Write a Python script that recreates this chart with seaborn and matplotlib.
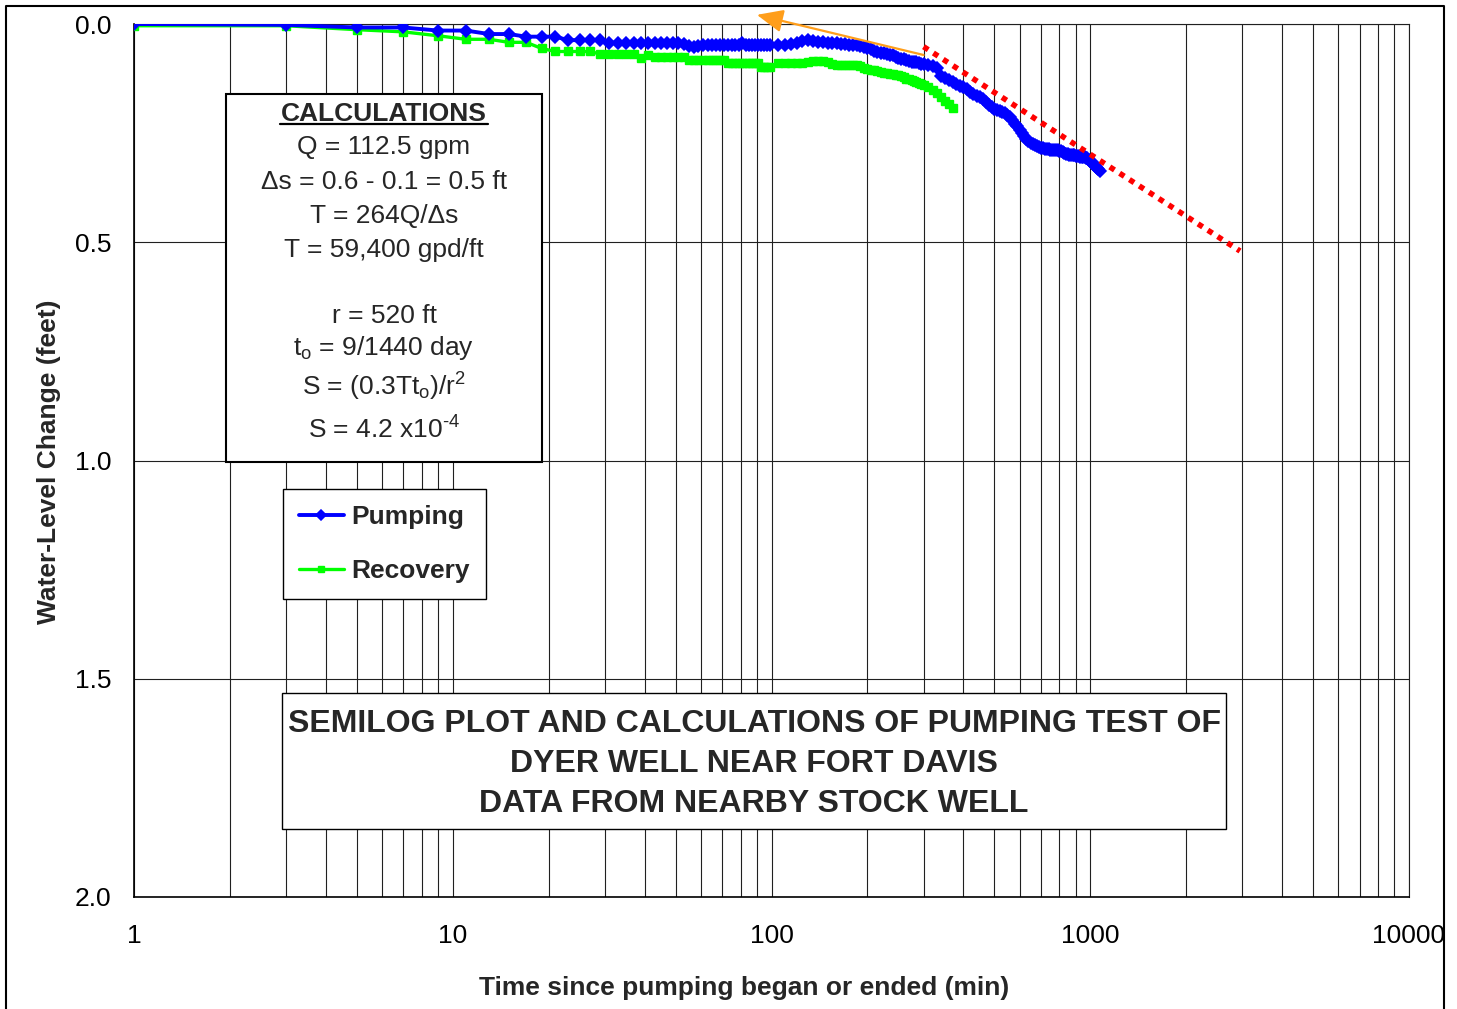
import numpy as np
import pandas as pd
import matplotlib
matplotlib.use('Agg')
import matplotlib.pyplot as plt
import seaborn as sns
from matplotlib.patches import Rectangle
from matplotlib.lines import Line2D
from matplotlib.ticker import LogLocator, NullFormatter, FixedLocator

# ---------------- data ----------------
pump_time = list(range(1, 101, 2)) + list(range(105, 301, 5)) + list(range(310, 1071, 10))
pump_change = [
    0.000, 0.002, 0.008, 0.008, 0.015, 0.015, 0.023, 0.023, 0.029, 0.029,
    0.029, 0.037, 0.037, 0.037, 0.037,
    0.043, 0.043, 0.043, 0.043, 0.043, 0.043, 0.043, 0.043, 0.043, 0.043, 0.043, 0.045,
    0.051, 0.052, 0.050,
    0.049,
    0.049, 0.049, 0.049, 0.049, 0.049, 0.049, 0.049, 0.049, 0.049,
    0.044,
    0.047,
    0.049, 0.049, 0.049, 0.049, 0.049, 0.049, 0.049, 0.049,
    # 105 .. 300 step 5
    0.047, 0.048, 0.046, 0.043, 0.040, 0.036, 0.040, 0.042, 0.042, 0.043,
    0.043, 0.044, 0.046, 0.046, 0.047, 0.048, 0.049, 0.050, 0.052, 0.054,
    0.058, 0.062, 0.065, 0.066, 0.067, 0.068, 0.070, 0.072, 0.075, 0.078,
    0.080, 0.081, 0.083, 0.085, 0.086, 0.087, 0.088, 0.090, 0.091, 0.092,
    # 310 .. 1070 step 10
    0.095, 0.097, 0.100, 0.118, 0.124, 0.128, 0.133, 0.137, 0.141, 0.145,
    0.150, 0.155, 0.160, 0.164, 0.167, 0.172, 0.178, 0.185, 0.191, 0.195,
    0.197, 0.199, 0.202, 0.205, 0.209, 0.214, 0.221, 0.228, 0.234, 0.242,
    0.250, 0.257, 0.263, 0.268, 0.272, 0.275, 0.278, 0.280, 0.282, 0.284,
    0.285, 0.286, 0.287, 0.287, 0.288, 0.288, 0.288, 0.289, 0.289, 0.290,
    0.291, 0.293, 0.295, 0.297, 0.298, 0.299, 0.300, 0.300, 0.301, 0.302,
    0.303, 0.303, 0.304, 0.304, 0.305, 0.305, 0.306, 0.308, 0.311, 0.314,
    0.317, 0.320, 0.323, 0.327, 0.330, 0.333, 0.336,
]

recov_time = list(range(1, 101, 2)) + list(range(105, 301, 5)) + list(range(310, 371, 10))
recov_change = [
    0.004, 0.004, 0.013, 0.018, 0.027, 0.035, 0.035, 0.042, 0.042, 0.056,
    0.063, 0.063, 0.063, 0.063, 0.069,
    0.069, 0.069, 0.069, 0.069,
    0.077,
    0.072,
    0.075, 0.075, 0.075, 0.075, 0.075, 0.075,
    0.082, 0.082, 0.082, 0.082, 0.082, 0.082, 0.082, 0.082, 0.082,
    0.090, 0.090, 0.090, 0.090, 0.090, 0.090, 0.090, 0.090, 0.090, 0.090,
    0.098, 0.098, 0.098, 0.098,
    # 105 .. 300 step 5
    0.090, 0.089, 0.089, 0.089, 0.089, 0.088, 0.084, 0.084, 0.084, 0.086,
    0.092, 0.093, 0.093, 0.093, 0.094, 0.094, 0.095, 0.097, 0.100, 0.103,
    0.105, 0.106, 0.108, 0.110, 0.112, 0.113, 0.114, 0.115, 0.116, 0.117,
    0.119, 0.122, 0.125, 0.127, 0.129, 0.131, 0.133, 0.135, 0.137, 0.139,
    # 310 .. 370 step 10
    0.145, 0.151, 0.157, 0.167, 0.176, 0.184, 0.192,
]

fit_time = [300, 2950]
fit_change = [0.052, 0.520]

arrow_tail = (300, 0.071)
arrow_head = (90, -0.021)

x_ticks = [1, 10, 100, 1000, 10000]
x_tick_labels = ['1', '10', '100', '1000', '10000']
y_ticks = [0.0, 0.5, 1.0, 1.5, 2.0]
y_tick_labels = ['0.0', '0.5', '1.0', '1.5', '2.0']

calc_title = 'CALCULATIONS'
calc_lines = [
    'Q = 112.5 gpm',
    '\u0394s = 0.6 - 0.1 = 0.5 ft',
    'T = 264Q/\u0394s',
    'T = 59,400 gpd/ft',
    'r = 520 ft',
    't$_{\\mathrm{o}}$ = 9/1440 day',
    'S = (0.3Tt$_{\\mathrm{o}}$)/r$^{\\mathrm{2}}$',
    'S = 4.2 x10$^{\\text{-4}}$',
]
title_lines = [
    'SEMILOG PLOT AND CALCULATIONS OF PUMPING TEST OF',
    'DYER WELL NEAR FORT DAVIS',
    'DATA FROM NEARBY STOCK WELL',
]
x_label = 'Time since pumping began or ended (min)'
y_label = 'Water-Level Change (feet)'

# ---------------- style ----------------
sns.set_theme(style='white')
plt.rcParams['font.family'] = ['Liberation Sans', 'DejaVu Sans']
plt.rcParams['mathtext.fontset'] = 'custom'
plt.rcParams['mathtext.rm'] = 'Liberation Sans'
plt.rcParams['mathtext.it'] = 'Liberation Sans:italic'
plt.rcParams['mathtext.bf'] = 'Liberation Sans:bold'

W, H = 1457, 1009
fig = plt.figure(figsize=(W / 100, H / 100), dpi=100)
fig.patch.set_facecolor('white')

def fx(px):
    return px / W

def fy(py):
    return 1 - py / H

ax = fig.add_axes([fx(134), fy(897), (1409 - 134) / W, (897 - 24) / H])
ax.set_facecolor('white')

pump_df = pd.DataFrame({'time': pump_time, 'change': pump_change})
recov_df = pd.DataFrame({'time': recov_time, 'change': recov_change})
fit_df = pd.DataFrame({'time': fit_time, 'change': fit_change})

sns.lineplot(data=pump_df, x='time', y='change', ax=ax, sort=False, errorbar=None,
             color='#0000FF', lw=2.8, marker='D', markersize=5.8,
             markeredgecolor='#0000FF', markerfacecolor='#0000FF', markeredgewidth=1.1,
             label='Pumping', zorder=4)
sns.lineplot(data=recov_df, x='time', y='change', ax=ax, sort=False, errorbar=None,
             color='#00FF00', lw=2.4, marker='s', markersize=5.6,
             markeredgecolor='#00FF00', markerfacecolor='#00FF00', markeredgewidth=1.0,
             label='Recovery', zorder=3)
sns.lineplot(data=fit_df, x='time', y='change', ax=ax, sort=False, errorbar=None,
             color='#FF0000', lw=4.0, linestyle=(0, (1, 1.1)), zorder=5, legend=False)

ax.annotate('', xy=arrow_head, xytext=arrow_tail, annotation_clip=False,
            arrowprops=dict(arrowstyle='-|>,head_length=0.8,head_width=0.35',
                            color='#FF9E1B', lw=1.6, mutation_scale=20,
                            shrinkA=0, shrinkB=0), zorder=6)

ax.set_xscale('log')
ax.set_xlim(1, 10000)
ax.set_ylim(2.0, 0.0)
ax.xaxis.set_major_locator(FixedLocator(x_ticks))
ax.set_xticklabels(x_tick_labels)
ax.xaxis.set_minor_locator(LogLocator(base=10, subs=np.arange(2, 10)))
ax.xaxis.set_minor_formatter(NullFormatter())
ax.set_yticks(y_ticks)
ax.set_yticklabels(y_tick_labels)

ax.grid(True, which='both', axis='x', color='#202020', lw=0.8)
ax.grid(True, which='major', axis='y', color='#202020', lw=0.8)
ax.set_axisbelow(True)

ax.tick_params(which='major', direction='out', length=6.5, width=1, color='black',
               labelsize=19, labelcolor='black')
ax.tick_params(axis='x', which='major', pad=13)
ax.tick_params(axis='y', which='major', pad=10)
ax.tick_params(which='minor', length=0)
for s in ['left', 'bottom']:
    ax.spines[s].set_color('black')
    ax.spines[s].set_linewidth(1.2)
for s in ['top', 'right']:
    ax.spines[s].set_color('#202020')
    ax.spines[s].set_linewidth(0.8)

ax.set_xlabel(x_label, fontsize=19, fontweight='bold', va='baseline')
ax.xaxis.set_label_coords(fx(744), fy(994.5), transform=fig.transFigure)
ax.set_ylabel(y_label, fontsize=19, fontweight='bold', va='center')
ax.yaxis.set_label_coords(fx(49), fy(461.5), transform=fig.transFigure)

# legend
leg = ax.legend(loc='upper left', bbox_to_anchor=(fx(283), fy(489)),
                bbox_transform=fig.transFigure, borderaxespad=0, frameon=True,
                fancybox=False, edgecolor='black', framealpha=1,
                prop={'weight': 'bold', 'size': 19}, handlelength=1.7,
                handletextpad=0.3, borderpad=0.6, labelspacing=1.15,
                markerscale=0.8)
leg.get_frame().set_linewidth(1.0)
leg.set_zorder(10)

# calculations box
ax.add_patch(Rectangle((fx(226), fy(462)), (542 - 226) / W, (462 - 94) / H,
                       transform=fig.transFigure, clip_on=False, facecolor='white',
                       edgecolor='black', lw=1.5, zorder=8))
cx = fx(384)
ax.text(cx, fy(120.7), calc_title, transform=fig.transFigure, ha='center', va='baseline',
        fontsize=19, fontweight='bold', zorder=9)
ax.add_line(Line2D([fx(280), fx(488)], [fy(124), fy(124)], transform=fig.transFigure,
                   color='black', lw=1.6, clip_on=False, zorder=9))
calc_baselines = [154.3, 189.3, 223.3, 256.7, 322.7, 355.0, 396.0, 438.3]
for s, b in zip(calc_lines, calc_baselines):
    ax.text(cx, fy(b), s, transform=fig.transFigure, ha='center', va='baseline',
            fontsize=19, zorder=9)

# title box
ax.add_patch(Rectangle((fx(282), fy(829)), (1226 - 282) / W, (829 - 693) / H,
                       transform=fig.transFigure, clip_on=False, facecolor='white',
                       edgecolor='black', lw=1.0, zorder=8))
for s, b in zip(title_lines, [731.5, 772.5, 812.5]):
    ax.text(fx(754), fy(b), s, transform=fig.transFigure, ha='center', va='baseline',
            fontsize=23, fontweight='bold', zorder=9)

# outer chart border
fig.add_artist(Line2D([fx(6), fx(6), fx(1444), fx(1444)], [0, fy(6), fy(6), 0],
                      transform=fig.transFigure, color='black', lw=1.5))

fig.savefig('out.png', dpi=100)
